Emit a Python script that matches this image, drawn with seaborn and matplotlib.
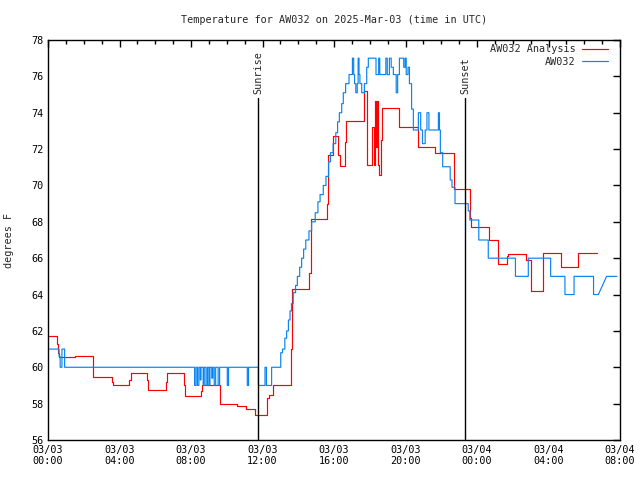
import matplotlib
matplotlib.use("Agg")
import matplotlib.pyplot as plt
from matplotlib.ticker import MultipleLocator
import seaborn as sns
import pandas as pd

title = "Temperature for AW032 on 2025-Mar-03 (time in UTC)"
ylabel = "degrees F"
series_names = ["AW032 Analysis", "AW032"]

# hours since 2025-03-03 00:00 UTC; runs of constant value (start, end, temp)
analysis_start = [0.00, 0.48, 0.55, 0.60, 1.50, 2.54, 3.56, 3.62, 4.55, 4.62, 5.56, 5.62, 6.60, 6.66,
                  7.60, 7.66, 8.56, 8.62, 9.60, 10.60, 11.10, 11.60, 12.27, 12.38, 12.60, 13.60, 13.63,
                  14.62, 14.72, 15.60, 15.65, 15.96, 16.24, 16.32, 16.60, 16.67, 17.64, 17.70, 17.86,
                  18.15, 18.24, 18.29, 18.35, 18.41, 18.48, 18.54, 18.61, 18.67, 19.65, 20.70, 21.65,
                  22.70, 23.60, 23.68, 24.67, 25.20, 25.66, 25.72, 26.74, 27.00, 27.70, 28.68, 29.67]
analysis_end = analysis_start[1:] + [30.70]
analysis_temp = [61.72, 61.30, 60.80, 60.55, 60.62, 59.45, 59.20, 59.00, 59.30, 59.67, 59.30, 58.73, 59.20, 59.67,
                 59.00, 58.40, 58.70, 59.00, 58.00, 57.87, 57.70, 57.36, 58.30, 58.50, 59.00, 61.00, 64.30,
                 65.20, 68.13, 69.00, 71.70, 72.70, 71.70, 71.07, 72.40, 73.56, 73.56, 75.20, 71.13,
                 73.23, 71.13, 74.66, 72.13, 74.66, 71.13, 70.58, 72.50, 74.25, 73.20, 72.13, 71.80,
                 69.80, 68.20, 67.70, 67.00, 65.70, 66.10, 66.23, 65.90, 64.20, 66.30, 65.53, 66.30]

obs_start = [0.00, 0.62, 0.68, 0.78, 0.93, 8.20, 8.28, 8.36, 8.44, 8.52, 8.56, 8.68, 8.74, 8.84, 8.92,
             9.00, 9.06, 9.16, 9.22, 9.30, 9.38, 9.52, 9.60, 10.03, 10.10, 11.15, 11.22, 11.77, 12.14,
             12.22, 12.51,
             13.02, 13.12, 13.25, 13.35, 13.45, 13.54, 13.62, 13.72, 13.85, 13.95, 14.08, 14.19, 14.30,
             14.42, 14.60, 14.75, 14.95, 15.10, 15.22, 15.40, 15.55, 15.70, 15.80, 15.95, 16.10, 16.20,
             16.30, 16.43, 16.52, 16.65,
             16.84, 17.03, 17.10, 17.15, 17.22, 17.30, 17.35, 17.40, 17.45, 17.55, 17.70, 17.83, 17.92,
             18.35, 18.50, 18.56, 18.90, 18.98, 19.10, 19.20, 19.32, 19.48, 19.56, 19.66, 19.90, 19.98,
             20.04, 20.14, 20.22, 20.34,
             20.44, 20.72, 20.85, 20.95, 21.10, 21.20, 21.31, 21.84, 21.90, 21.95, 22.08, 22.50, 22.60,
             22.77, 23.51, 23.60, 24.10, 24.63, 26.15, 26.87, 28.12, 28.92, 29.43, 30.52, 31.25]
obs_end = [0.62, 0.68, 0.78, 0.93, 8.20, 8.28, 8.36, 8.44, 8.52, 8.56, 8.68, 8.74, 8.84, 8.92, 9.00,
           9.06, 9.16, 9.22, 9.30, 9.38, 9.52, 9.60, 10.03, 10.10, 11.15, 11.22, 11.77, 12.14, 12.22,
           12.51, 13.02,
           13.12, 13.25, 13.35, 13.45, 13.54, 13.62, 13.72, 13.85, 13.95, 14.08, 14.19, 14.30, 14.42,
           14.60, 14.75, 14.95, 15.10, 15.22, 15.40, 15.55, 15.70, 15.80, 15.95, 16.10, 16.20, 16.30,
           16.43, 16.52, 16.65, 16.84,
           17.03, 17.10, 17.15, 17.22, 17.30, 17.35, 17.40, 17.45, 17.55, 17.70, 17.83, 17.92, 18.35,
           18.50, 18.56, 18.90, 18.98, 19.10, 19.20, 19.32, 19.48, 19.56, 19.66, 19.90, 19.98, 20.04,
           20.14, 20.22, 20.34, 20.44,
           20.72, 20.85, 20.95, 21.10, 21.20, 21.31, 21.84, 21.90, 21.95, 22.08, 22.50, 22.60, 22.77,
           23.51, 23.60, 24.10, 24.63, 26.15, 26.87, 28.12, 28.92, 29.43, 30.52, 30.79, 31.83]
obs_temp = [61.0, 60.6, 60.0, 61.0, 60.0, 59.0, 60.0, 59.0, 60.0, 59.3, 60.0, 59.0, 60.0, 59.0, 60.0,
            59.0, 60.0, 59.4, 60.0, 59.0, 60.0, 59.0, 60.0, 59.0, 60.0, 59.0, 60.0, 59.0, 60.0,
            59.0, 60.0,
            60.8, 61.0, 61.6, 62.0, 62.6, 63.1, 63.5, 64.1, 64.5, 65.0, 65.5, 66.0, 66.5,
            67.0, 67.5, 68.0, 68.5, 69.1, 69.5, 70.0, 70.5, 71.3, 71.8, 72.3, 72.9, 73.5,
            74.0, 74.5, 75.1, 75.6,
            76.1, 77.0, 76.1, 75.6, 75.1, 75.6, 77.0, 76.1, 75.6, 75.1, 75.6, 76.5, 77.0,
            76.1, 77.0, 76.1, 77.0, 76.1, 77.0, 76.5, 76.1, 75.1, 76.1, 77.0, 76.5, 77.0,
            76.1, 76.5, 75.6, 74.2,
            73.05, 74.0, 73.05, 72.3, 73.05, 74.0, 73.05, 74.0, 73.05, 71.8, 71.03, 70.3, 69.9,
            69.0, 68.6, 68.1, 67.0, 66.0, 65.0, 66.0, 65.0, 64.0, 65.0, 64.0, 65.0]

sunrise_hour = 11.77
sunset_hour = 23.33
xtick_hours = [0, 4, 8, 12, 16, 20, 24, 28, 32]
xtick_labels = ["03/03\n00:00", "03/03\n04:00", "03/03\n08:00", "03/03\n12:00", "03/03\n16:00",
                "03/03\n20:00", "03/04\n00:00", "03/04\n04:00", "03/04\n08:00"]
ytick_values = [56, 58, 60, 62, 64, 66, 68, 70, 72, 74, 76, 78]


def runs_to_frame(starts, ends, temps):
    xs, ys = [], []
    for s, e, t in zip(starts, ends, temps):
        xs += [s, e]
        ys += [t, t]
    return pd.DataFrame({"hour": xs, "temp": ys})


sns.set_style("white")
plt.rcParams["font.family"] = ["DejaVu Sans Mono", "DejaVu Sans"]
FS = 7.3

fig = plt.figure(figsize=(6.4, 4.8), dpi=100)
ax = fig.add_axes([48 / 640, 40 / 480, 572 / 640, 400 / 480])

df_a = runs_to_frame(analysis_start, analysis_end, analysis_temp)
df_o = runs_to_frame(obs_start, obs_end, obs_temp)
sns.lineplot(data=df_a, x="hour", y="temp", sort=False, estimator=None, color="#ff0000",
             linewidth=0.85, ax=ax, label=series_names[0])
sns.lineplot(data=df_o, x="hour", y="temp", sort=False, estimator=None, color="#0a84f0",
             linewidth=0.85, ax=ax, label=series_names[1])

ymin, ymax = 56, 78
line_top = 0.855
for h, name in [(sunrise_hour, "Sunrise"), (sunset_hour, "Sunset")]:
    ax.axvline(h, ymin=0, ymax=line_top, color="black", linewidth=1.0)
    ax.text(h, ymin + (ymax - ymin) * line_top + 0.2, name, rotation=90, ha="center", va="bottom",
            fontsize=FS)

ax.set_xlim(0, 32)
ax.set_ylim(ymin, ymax)
ax.set_xticks(xtick_hours)
ax.set_xticklabels(xtick_labels)
ax.set_yticks(ytick_values)
ax.xaxis.set_minor_locator(MultipleLocator(1))
ax.tick_params(which="both", direction="in", top=True, right=True, labelsize=FS, colors="black")
ax.tick_params(which="major", length=5, width=1)
ax.tick_params(which="minor", length=3, width=1)
for sp in ax.spines.values():
    sp.set_color("black")
    sp.set_linewidth(1.0)
ax.set_xlabel("")
ax.set_ylabel(ylabel, fontsize=FS, labelpad=12)
ax.set_title(title, fontsize=FS, pad=12)

leg = ax.legend(loc="upper right", frameon=False, markerfirst=False, fontsize=FS,
                handlelength=2.6, handletextpad=0.6, borderaxespad=0.2, labelspacing=0.25,
                bbox_to_anchor=(0.99, 1.005))
for t in leg.get_texts():
    t.set_ha("right")

fig.savefig("out.png", dpi=100)
